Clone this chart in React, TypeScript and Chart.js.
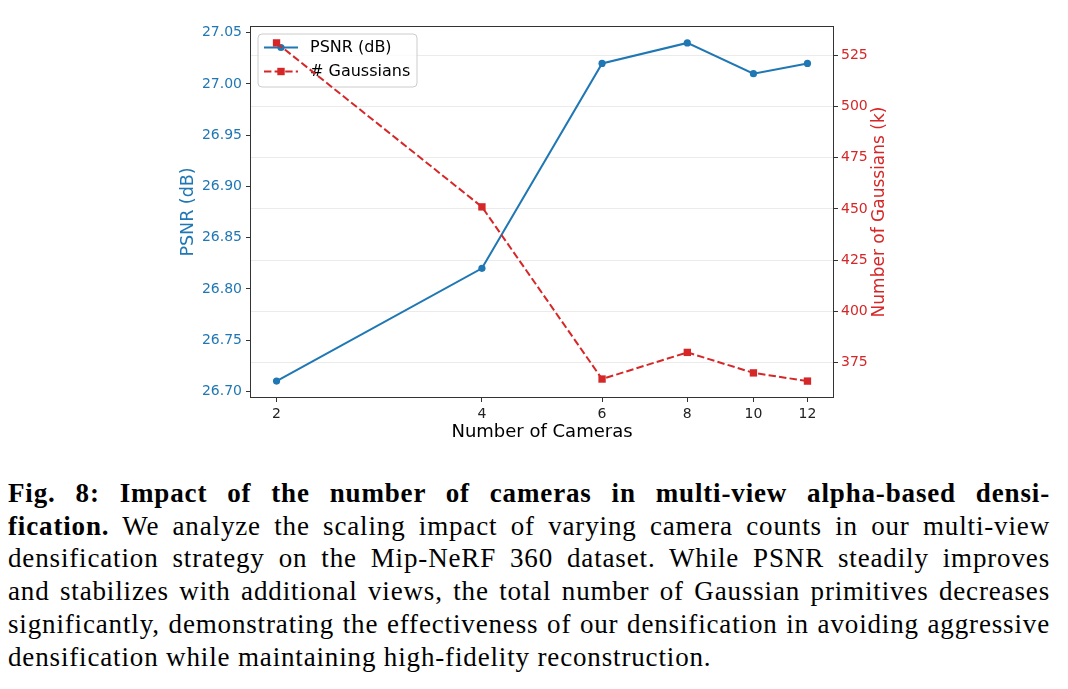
import React, { useEffect, useRef } from "react";
import { Chart, registerables } from "chart.js";

Chart.register(...registerables);

// ---- data ----
const cameras = [2, 4, 6, 8, 10, 12];
const psnr = [26.71, 26.82, 27.02, 27.04, 27.01, 27.02];
const gaussians = [531, 451, 367, 380, 370, 366];
const psnrTicks = [26.7, 26.75, 26.8, 26.85, 26.9, 26.95, 27.0, 27.05];
const gaussTicks = [375, 400, 425, 450, 475, 500, 525];
const xTicks = [2, 4, 6, 8, 10, 12];

const seriesNames = ["PSNR (dB)", "# Gaussians"];
const xTitle = "Number of Cameras";
const yTitle = "PSNR (dB)";
const y1Title = "Number of Gaussians (k)";

const BLUE = "#1f77b4";
const RED = "#d62728";
const FONT = "'DejaVu Sans', sans-serif";
const DASH = [7.4, 3.2];

function padRange(vals: number[], frac = 0.05): [number, number] {
  const mn = Math.min(...vals);
  const mx = Math.max(...vals);
  const r = mx - mn;
  return [mn - frac * r, mx + frac * r];
}

function setTicks(values: number[]) {
  return (scale: any) => {
    scale.ticks = values.map((v) => ({ value: v }));
  };
}

export default function App() {
  const ref = useRef<HTMLCanvasElement>(null);

  useEffect(() => {
    const [yMin, yMax] = padRange(psnr);
    const [y1Min, y1Max] = padRange(gaussians);
    const [lMin, lMax] = padRange(cameras.map((c) => Math.log10(c)));
    const xMin = Math.pow(10, lMin);
    const xMax = Math.pow(10, lMax);

    const drawLegend = (chart: any) => {
      const { ctx, chartArea } = chart;
      const x0 = chartArea.left + 8;
      const y0 = chartArea.top + 8;
      const w = 159;
      const h = 53;
      ctx.save();
      ctx.beginPath();
      (ctx as any).roundRect(x0, y0, w, h, 4);
      ctx.fillStyle = "rgba(255,255,255,0.8)";
      ctx.fill();
      ctx.strokeStyle = "#cccccc";
      ctx.lineWidth = 1;
      ctx.stroke();

      const lx0 = x0 + 6;
      const lx1 = x0 + 40;
      const mx = (lx0 + lx1) / 2;
      const r1 = y0 + 13.5;
      const r2 = y0 + 37.5;
      // PSNR entry
      ctx.strokeStyle = BLUE;
      ctx.lineWidth = 2;
      ctx.setLineDash([]);
      ctx.beginPath();
      ctx.moveTo(lx0, r1);
      ctx.lineTo(lx1, r1);
      ctx.stroke();
      ctx.fillStyle = BLUE;
      ctx.beginPath();
      ctx.arc(mx, r1, 3.6, 0, Math.PI * 2);
      ctx.fill();
      // Gaussians entry
      ctx.strokeStyle = RED;
      ctx.setLineDash(DASH);
      ctx.beginPath();
      ctx.moveTo(lx0, r2);
      ctx.lineTo(lx1, r2);
      ctx.stroke();
      ctx.setLineDash([]);
      ctx.fillStyle = RED;
      ctx.fillRect(mx - 3.7, r2 - 3.7, 7.4, 7.4);

      ctx.fillStyle = "#000";
      ctx.font = `16px ${FONT}`;
      ctx.textAlign = "left";
      ctx.textBaseline = "middle";
      ctx.fillText(seriesNames[0], x0 + 52, r1);
      ctx.fillText(seriesNames[1], x0 + 52, r2);
      ctx.restore();
    };

    const overlay = {
      id: "overlay",
      afterDatasetDraw(chart: any, args: any) {
        if (args.index === 0) drawLegend(chart);
      },
      afterDatasetsDraw(chart: any) {
        const { ctx, chartArea } = chart;
        ctx.save();
        ctx.strokeStyle = "#333";
        ctx.lineWidth = 1;
        ctx.setLineDash([]);
        ctx.strokeRect(
          Math.round(chartArea.left) + 0.5,
          Math.round(chartArea.top) + 0.5,
          Math.round(chartArea.right - chartArea.left) - 1,
          Math.round(chartArea.bottom - chartArea.top) - 1
        );
        ctx.restore();
      },
      afterDraw(chart: any) {
        const { ctx, chartArea } = chart;
        const cy = (chartArea.top + chartArea.bottom) / 2;
        ctx.save();
        ctx.textAlign = "center";
        ctx.textBaseline = "middle";
        ctx.fillStyle = "#000";
        ctx.font = `18px ${FONT}`;
        ctx.fillText(xTitle, (chartArea.left + chartArea.right) / 2, chartArea.bottom + 34);

        ctx.font = `17.5px ${FONT}`;
        ctx.save();
        ctx.translate(chartArea.left - 62, cy);
        ctx.rotate(-Math.PI / 2);
        ctx.fillStyle = BLUE;
        ctx.fillText(yTitle, 0, 0);
        ctx.restore();

        ctx.font = `17px ${FONT}`;
        ctx.save();
        ctx.translate(chartArea.right + 46, cy);
        ctx.rotate(-Math.PI / 2);
        ctx.fillStyle = RED;
        ctx.fillText(y1Title, 0, 0);
        ctx.restore();
        ctx.restore();
      },
    };

    const tickFont = { family: FONT, size: 14 };

    const chart = new Chart(ref.current as HTMLCanvasElement, {
      type: "line",
      data: {
        datasets: [
          {
            label: seriesNames[0],
            data: cameras.map((c, i) => ({ x: c, y: psnr[i] })),
            yAxisID: "y",
            borderColor: BLUE,
            backgroundColor: BLUE,
            borderWidth: 2,
            pointRadius: 3.6,
            pointBorderWidth: 0,
            pointBackgroundColor: BLUE,
            pointStyle: "circle",
            tension: 0,
            order: 2,
            clip: false,
          },
          {
            label: seriesNames[1],
            data: cameras.map((c, i) => ({ x: c, y: gaussians[i] })),
            yAxisID: "y1",
            borderColor: RED,
            backgroundColor: RED,
            borderWidth: 2,
            borderDash: DASH,
            pointRadius: 5.2,
            pointBorderWidth: 0,
            pointBackgroundColor: RED,
            pointStyle: "rect",
            tension: 0,
            order: 1,
            clip: false,
          },
        ],
      },
      options: {
        responsive: false,
        animation: false,
        devicePixelRatio: 1,
        events: [],
        layout: { padding: { top: 26, left: 0, right: 0, bottom: 0 } },
        plugins: { legend: { display: false }, tooltip: { enabled: false } },
        scales: {
          x: {
            type: "logarithmic",
            min: xMin,
            max: xMax,
            afterBuildTicks: setTicks(xTicks),
            afterFit: (s: any) => {
              s.height = 72;
            },
            ticks: {
              autoSkip: false,
              maxRotation: 0,
              color: "#222",
              font: tickFont,
              padding: 4,
              callback: (v: any) => String(v),
            },
            grid: {
              drawOnChartArea: false,
              drawTicks: true,
              tickLength: 4,
              tickColor: "#333",
            },
            border: { display: false },
          },
          y: {
            type: "linear",
            position: "left",
            min: yMin,
            max: yMax,
            afterBuildTicks: setTicks(psnrTicks),
            afterFit: (s: any) => {
              s.width = 250;
            },
            ticks: {
              color: BLUE,
              font: tickFont,
              padding: 4,
              callback: (v: any) => Number(v).toFixed(2),
            },
            grid: {
              drawOnChartArea: false,
              drawTicks: true,
              tickLength: 4,
              tickColor: "#333",
            },
            border: { display: false },
          },
          y1: {
            type: "linear",
            position: "right",
            min: y1Min,
            max: y1Max,
            afterBuildTicks: setTicks(gaussTicks),
            afterFit: (s: any) => {
              s.width = 234;
            },
            ticks: {
              color: RED,
              font: tickFont,
              padding: 3,
              callback: (v: any) => String(Math.round(Number(v))),
            },
            grid: {
              drawOnChartArea: true,
              color: "#ebebeb",
              lineWidth: 1,
              drawTicks: true,
              tickLength: 4,
              tickColor: "#333",
            },
            border: { display: false },
          },
        },
      },
      plugins: [overlay],
    } as any);

    return () => chart.destroy();
  }, []);

  const lineStyle: React.CSSProperties = {
    textAlign: "justify",
    textAlignLast: "justify",
    whiteSpace: "nowrap",
  };

  return (
    <div style={{ position: "absolute", left: 0, top: 0, width: 1068, height: 689, background: "#fff" }}>
      <canvas ref={ref} width={1068} height={470} style={{ position: "absolute", left: 0, top: 0, width: 1068, height: 470 }} />
      <div
        style={{
          position: "absolute",
          left: 8,
          top: 477,
          width: 1042,
          fontFamily: "'Liberation Serif', serif",
          fontSize: 27,
          letterSpacing: "0.85px",
          lineHeight: "32.7px",
          color: "#000",
        }}
      >
        <div style={lineStyle}>
          <b>Fig. 8: Impact of the number of cameras in multi-view alpha-based densi-</b>
        </div>
        <div style={lineStyle}>
          <b>fication.</b> We analyze the scaling impact of varying camera counts in our multi-view
        </div>
        <div style={lineStyle}>
          densification strategy on the Mip-NeRF 360 dataset. While PSNR steadily improves
        </div>
        <div style={lineStyle}>
          and stabilizes with additional views, the total number of Gaussian primitives decreases
        </div>
        <div style={lineStyle}>
          significantly, demonstrating the effectiveness of our densification in avoiding aggressive
        </div>
        <div style={{ textAlign: "left" }}>
          densification while maintaining high-fidelity reconstruction.
        </div>
      </div>
    </div>
  );
}
